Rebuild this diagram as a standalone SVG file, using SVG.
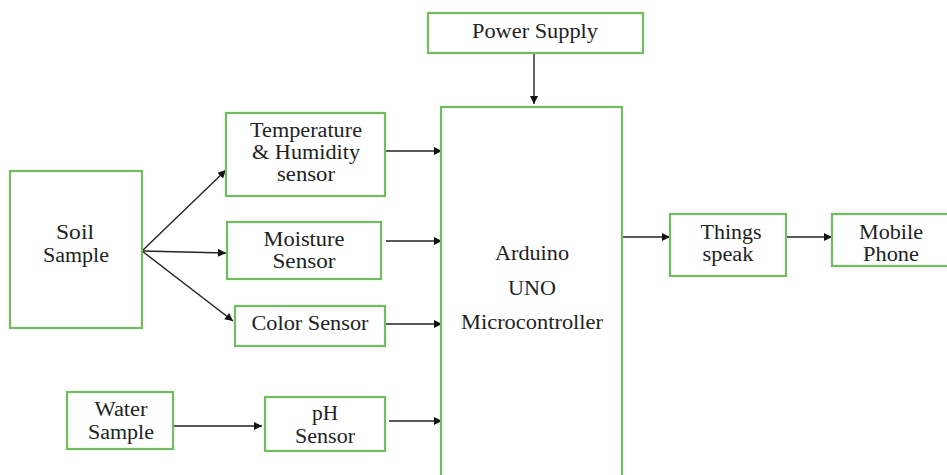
<svg xmlns="http://www.w3.org/2000/svg" width="947" height="475" viewBox="0 0 947 475">
<style>
.box{fill:#fff;stroke:#6fbd5e;stroke-width:2.2}
.t{font-family:'Liberation Serif','DejaVu Serif',serif;font-size:20px;fill:#222;text-anchor:middle}
.c{stroke:#222;stroke-width:1.4;fill:none;marker-end:url(#ah)}
</style>
<defs>
<marker id="ah" viewBox="0 0 10 10" refX="10" refY="5" markerWidth="10" markerHeight="8" markerUnits="userSpaceOnUse" orient="auto">
<path d="M0,0 L10,5 L0,10 z" fill="#111"/>
</marker>
</defs>
<rect width="947" height="475" fill="#fff"/>
<g id="connectors">
<line class="c" x1="534" y1="53" x2="534" y2="104"/>
<line class="c" x1="142" y1="251" x2="226" y2="170"/>
<line class="c" x1="142" y1="251" x2="226" y2="253"/>
<line class="c" x1="142" y1="251" x2="233" y2="321"/>
<line class="c" x1="385" y1="151" x2="442" y2="151"/>
<line class="c" x1="386" y1="241" x2="442" y2="241"/>
<line class="c" x1="385" y1="324" x2="442" y2="324"/>
<line class="c" x1="389" y1="421" x2="442" y2="421"/>
<line class="c" x1="174" y1="426" x2="262" y2="426"/>
<line class="c" x1="622" y1="237" x2="670" y2="237"/>
<line class="c" x1="786" y1="237" x2="832" y2="237"/>
</g>
<g id="power">
<rect class="box" x="428" y="13" width="215" height="40"/>
<text class="t" x="535" y="38" textLength="126" lengthAdjust="spacingAndGlyphs">Power Supply</text>
</g>
<g id="arduino">
<rect class="box" x="441" y="107" width="181" height="380"/>
<text class="t" x="532" y="260" textLength="74" lengthAdjust="spacingAndGlyphs">Arduino</text>
<text class="t" x="532" y="295" textLength="48" lengthAdjust="spacingAndGlyphs">UNO</text>
<text class="t" x="532" y="329" textLength="142" lengthAdjust="spacingAndGlyphs">Microcontroller</text>
</g>
<g id="soil">
<rect class="box" x="10" y="171" width="132" height="157"/>
<text class="t" x="75" y="239" textLength="38" lengthAdjust="spacingAndGlyphs">Soil</text>
<text class="t" x="76" y="262" textLength="66" lengthAdjust="spacingAndGlyphs">Sample</text>
</g>
<g id="temp">
<rect class="box" x="226" y="113" width="159" height="83"/>
<text class="t" x="306" y="137" textLength="112" lengthAdjust="spacingAndGlyphs">Temperature</text>
<text class="t" x="306" y="159" textLength="108" lengthAdjust="spacingAndGlyphs">&amp; Humidity</text>
<text class="t" x="306" y="181" textLength="58" lengthAdjust="spacingAndGlyphs">sensor</text>
</g>
<g id="moisture">
<rect class="box" x="227" y="222" width="154" height="57"/>
<text class="t" x="304" y="246" textLength="81" lengthAdjust="spacingAndGlyphs">Moisture</text>
<text class="t" x="304" y="268" textLength="63" lengthAdjust="spacingAndGlyphs">Sensor</text>
</g>
<g id="color">
<rect class="box" x="235" y="306" width="150" height="40"/>
<text class="t" x="310" y="330" textLength="117" lengthAdjust="spacingAndGlyphs">Color Sensor</text>
</g>
<g id="water">
<rect class="box" x="67" y="392" width="106" height="57"/>
<text class="t" x="121" y="416" textLength="53" lengthAdjust="spacingAndGlyphs">Water</text>
<text class="t" x="121" y="439" textLength="66" lengthAdjust="spacingAndGlyphs">Sample</text>
</g>
<g id="ph">
<rect class="box" x="265" y="397" width="120" height="54"/>
<text class="t" x="325" y="420" textLength="26" lengthAdjust="spacingAndGlyphs">pH</text>
<text class="t" x="325" y="443" textLength="60" lengthAdjust="spacingAndGlyphs">Sensor</text>
</g>
<g id="things">
<rect class="box" x="670" y="214" width="116" height="62"/>
<text class="t" x="731" y="239" textLength="61" lengthAdjust="spacingAndGlyphs">Things</text>
<text class="t" x="728" y="261" textLength="51" lengthAdjust="spacingAndGlyphs">speak</text>
</g>
<g id="mobile">
<rect class="box" x="832" y="214" width="120" height="52"/>
<text class="t" x="891" y="239" textLength="64" lengthAdjust="spacingAndGlyphs">Mobile</text>
<text class="t" x="891" y="261" textLength="56" lengthAdjust="spacingAndGlyphs">Phone</text>
</g>
</svg>
